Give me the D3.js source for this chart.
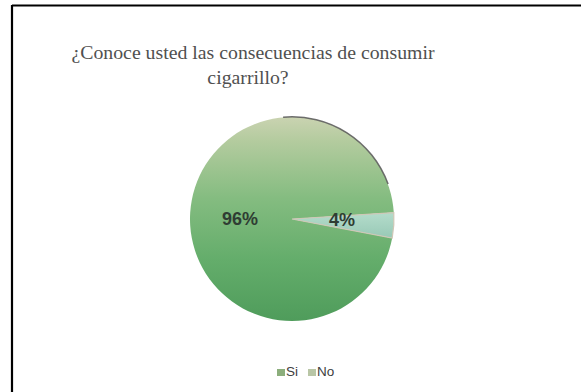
<!DOCTYPE html>
<html>
<head>
<meta charset="utf-8">
<script src="https://cdn.jsdelivr.net/npm/d3@7"></script>
<style>
  html, body { margin: 0; padding: 0; background: #fff; }
  svg { display: block; }
</style>
</head>
<body>
<svg id="chart" width="581" height="392"></svg>
<script>
// Survey answers and their shares
const categories = ["Si", "No"];
const values = [96, 4];
const titleLines = ["¿Conoce usted las consecuencias de consumir", "cigarrillo?"];

const W = 581, H = 392;
const svg = d3.select("#chart");
const defs = svg.append("defs");

// Frame of the chart area
svg.append("line").attr("x1", 12).attr("y1", 5.5).attr("x2", W).attr("y2", 5.5)
  .attr("stroke", "#000").attr("stroke-width", 2);
svg.append("line").attr("x1", 12).attr("y1", 5).attr("x2", 12).attr("y2", H)
  .attr("stroke", "#000").attr("stroke-width", 2.2);

// Title
const title = svg.append("text")
  .attr("font-family", "'Liberation Serif', 'Times New Roman', serif")
  .attr("font-size", 19.8)
  .attr("fill", "#505050")
  .attr("text-anchor", "middle");
title.selectAll("tspan").data(titleLines).join("tspan")
  .attr("x", (d, i) => i === 0 ? 253 : 248)
  .attr("y", (d, i) => 59 + i * 25)
  .text(d => d);

// Fills
const gSi = defs.append("linearGradient").attr("id", "gSi")
  .attr("x1", 0).attr("y1", 0).attr("x2", 0).attr("y2", 1);
[["0%", "#cad3b1"], ["12%", "#b3cb9e"], ["40%", "#84bc80"], ["70%", "#64ad6b"], ["100%", "#4f9c5b"]]
  .forEach(([o, c]) => gSi.append("stop").attr("offset", o).attr("stop-color", c));
const gNo = defs.append("linearGradient").attr("id", "gNo")
  .attr("x1", 0).attr("y1", 0).attr("x2", 0).attr("y2", 1);
[["0%", "#b4dccb"], ["100%", "#98c9b6"]]
  .forEach(([o, c]) => gNo.append("stop").attr("offset", o).attr("stop-color", c));
const fills = { Si: "url(#gSi)", No: "url(#gNo)" };
const legendFills = { Si: "#8cae7c", No: "#b9c6a6" };

// Pie
const cx = 292, cy = 219, r = 102;
const start = 100.8 * Math.PI / 180;
const pie = d3.pie().sort(null).startAngle(start).endAngle(start + 2 * Math.PI);
const arcs = pie(values).map((a, i) => Object.assign(a, { cat: categories[i] }));
const arc = d3.arc().innerRadius(0).outerRadius(r);
const g = svg.append("g").attr("transform", `translate(${cx},${cy})`);

g.selectAll("path.slice").data(arcs).join("path")
  .attr("class", "slice")
  .attr("d", arc)
  .attr("fill", d => fills[d.cat])
  .attr("stroke", d => d.cat === "No" ? "#cfc7b6" : "none")
  .attr("stroke-width", 1.2);

// Dark rim along the upper-right edge
const rim = d3.arc().innerRadius(r - 0.5).outerRadius(r + 1)
  .startAngle(-5 * Math.PI / 180).endAngle(70 * Math.PI / 180);
g.append("path").attr("d", rim()).attr("fill", "#555").attr("opacity", 0.85);

// Percentage labels
const labelPos = { Si: [240, 219], No: [342, 220] };
svg.selectAll("text.lbl").data(arcs).join("text")
  .attr("class", "lbl")
  .attr("x", d => labelPos[d.cat][0])
  .attr("y", d => labelPos[d.cat][1])
  .attr("dy", "0.35em")
  .attr("text-anchor", "middle")
  .attr("font-family", "'Liberation Sans', Arial, sans-serif")
  .attr("font-weight", "bold")
  .attr("font-size", 18)
  .attr("fill", "#2f3d33")
  .text(d => Math.round(d.value) + "%");

// Legend
const legendX = [277, 308];
const lg = svg.selectAll("g.leg").data(categories).join("g")
  .attr("class", "leg")
  .attr("transform", (d, i) => `translate(${legendX[i]},369)`);
lg.append("rect").attr("width", 8).attr("height", 7)
  .attr("fill", d => legendFills[d]);
lg.append("text").attr("x", 9).attr("y", 7)
  .attr("font-family", "'Liberation Sans', Arial, sans-serif")
  .attr("font-size", 13.5)
  .attr("fill", "#404040")
  .text(d => d);
</script>
</body>
</html>
